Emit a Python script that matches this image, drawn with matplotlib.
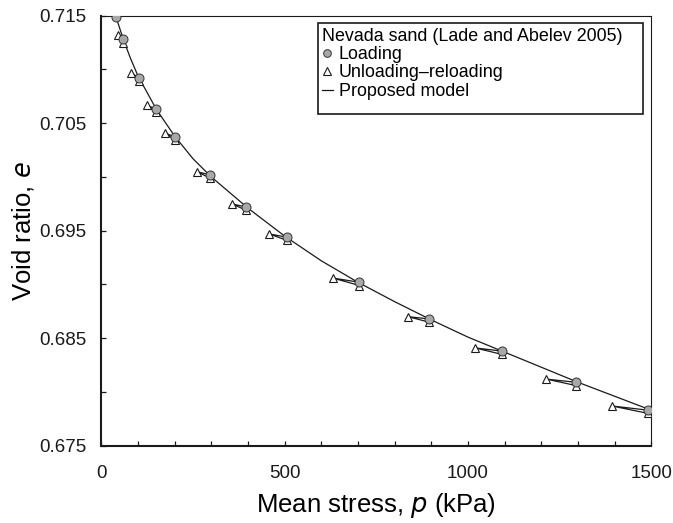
import matplotlib
matplotlib.use("Agg")
import matplotlib.pyplot as plt
from matplotlib.patches import Rectangle
from matplotlib.ticker import MultipleLocator, FormatStrFormatter

plt.rcParams["font.family"] = ["Liberation Sans", "DejaVu Sans"]

# loading points (Lade and Abelev 2005)
p_load = [40, 60, 104, 149, 202, 296, 395, 506, 704, 893, 1092, 1294, 1492]
e_load = [0.7149, 0.7128, 0.7092, 0.7063, 0.7037, 0.7002, 0.6972, 0.6944,
          0.6902, 0.6868, 0.6838, 0.6809, 0.6783]

# end of each unloading (one per loading point from the 2nd on)
p_unload = [46, 80, 124, 173, 260, 356, 458, 631, 837, 1019, 1213, 1392]
e_unload = [0.7132, 0.7097, 0.7067, 0.7041, 0.7005, 0.6975, 0.6947, 0.6906,
            0.6870, 0.6841, 0.6812, 0.6787]

# reloading back to the loading stress
p_reload = [60, 104, 149, 202, 296, 395, 506, 704, 893, 1092, 1294, 1492]
e_reload = [0.7125, 0.7089, 0.7060, 0.7034, 0.6999, 0.6969, 0.6941,
            0.6899, 0.6865, 0.6835, 0.6806, 0.6780]

# proposed model curve
p_model = [31, 40, 60, 80, 100, 150, 200, 250, 300, 400, 500, 600, 700,
           800, 900, 1000, 1100, 1200, 1300, 1400, 1500]
e_model = [0.7156, 0.7149, 0.7128, 0.7110, 0.7094, 0.7063, 0.7038, 0.7017,
           0.7000, 0.6971, 0.6945, 0.6922, 0.6902, 0.6884, 0.6867, 0.6851,
           0.6837, 0.6823, 0.6809, 0.6796, 0.6783]

fig = plt.figure(figsize=(6.73, 5.23), dpi=100)
ax = fig.add_axes([101.3 / 673, 1 - 445.7 / 523, 550 / 673, 430 / 523])

# model curve
ax.plot(p_model, e_model, color="#1a1a1a", lw=0.9, zorder=2,
        label="Proposed model")

# model unloading-reloading loops
for i in range(len(p_unload)):
    ax.plot([p_load[i + 1], p_unload[i], p_reload[i]],
            [e_load[i + 1], e_unload[i], e_reload[i]],
            color="#1a1a1a", lw=0.9, zorder=2)

tri_p = p_unload + p_reload
tri_e = e_unload + e_reload
ax.plot(tri_p, tri_e, ls="none", marker="^", ms=6, mfc="white",
        mec="#1a1a1a", mew=0.8, zorder=3, label="Unloading\u2013reloading")
ax.plot(p_load, e_load, ls="none", marker="o", ms=6.5, mfc="#a8a8a8",
        mec="#333333", mew=0.7, zorder=4, label="Loading")

ax.set_xlim(0, 1500)
ax.set_ylim(0.675, 0.715)
ax.xaxis.set_major_locator(MultipleLocator(500))
ax.xaxis.set_minor_locator(MultipleLocator(100))
ax.yaxis.set_minor_locator(MultipleLocator(0.005))
ax.set_yticks([0.675, 0.685, 0.695, 0.705, 0.715])
ax.yaxis.set_major_formatter(FormatStrFormatter("%.3f"))
ax.tick_params(which="both", direction="in", length=3.5, width=0.9,
               labelsize=13.5, colors="#1a1a1a")
ax.tick_params(axis="x", pad=14)
ax.tick_params(axis="y", pad=11)

for side in ["left", "bottom"]:
    ax.spines[side].set_linewidth(1.5)
for side in ["top", "right"]:
    ax.spines[side].set_linewidth(0.8)
for s in ax.spines.values():
    s.set_color("#1a1a1a")

ax.set_xlabel("Mean stress, $\\it{p}$ (kPa)", fontsize=18.5, labelpad=6.5)
ax.set_ylabel("Void ratio, $\\it{e}$", fontsize=18.5, labelpad=2)

handles, labels = ax.get_legend_handles_labels()
order = [2, 1, 0]
leg = ax.legend([handles[i] for i in order], [labels[i] for i in order],
                title="Nevada sand (Lade and Abelev 2005)",
                loc="upper left", bbox_to_anchor=(318 / 673, 1 - 24 / 523),
                bbox_transform=fig.transFigure, borderaxespad=0,
                fontsize=12.9, title_fontsize=12.9, alignment="left",
                frameon=False, handlelength=0.65, handletextpad=0.3,
                labelspacing=0.08, borderpad=0.2, markerscale=0.85)

# legend box is wider/taller than its content in the original
box = Rectangle((318 / 673, 1 - 114 / 523), 325 / 673, 91.3 / 523,
                transform=fig.transFigure, fill=False, lw=1.2,
                edgecolor="#1a1a1a", zorder=5)
fig.patches.append(box)

fig.savefig("out.png", dpi=100)
